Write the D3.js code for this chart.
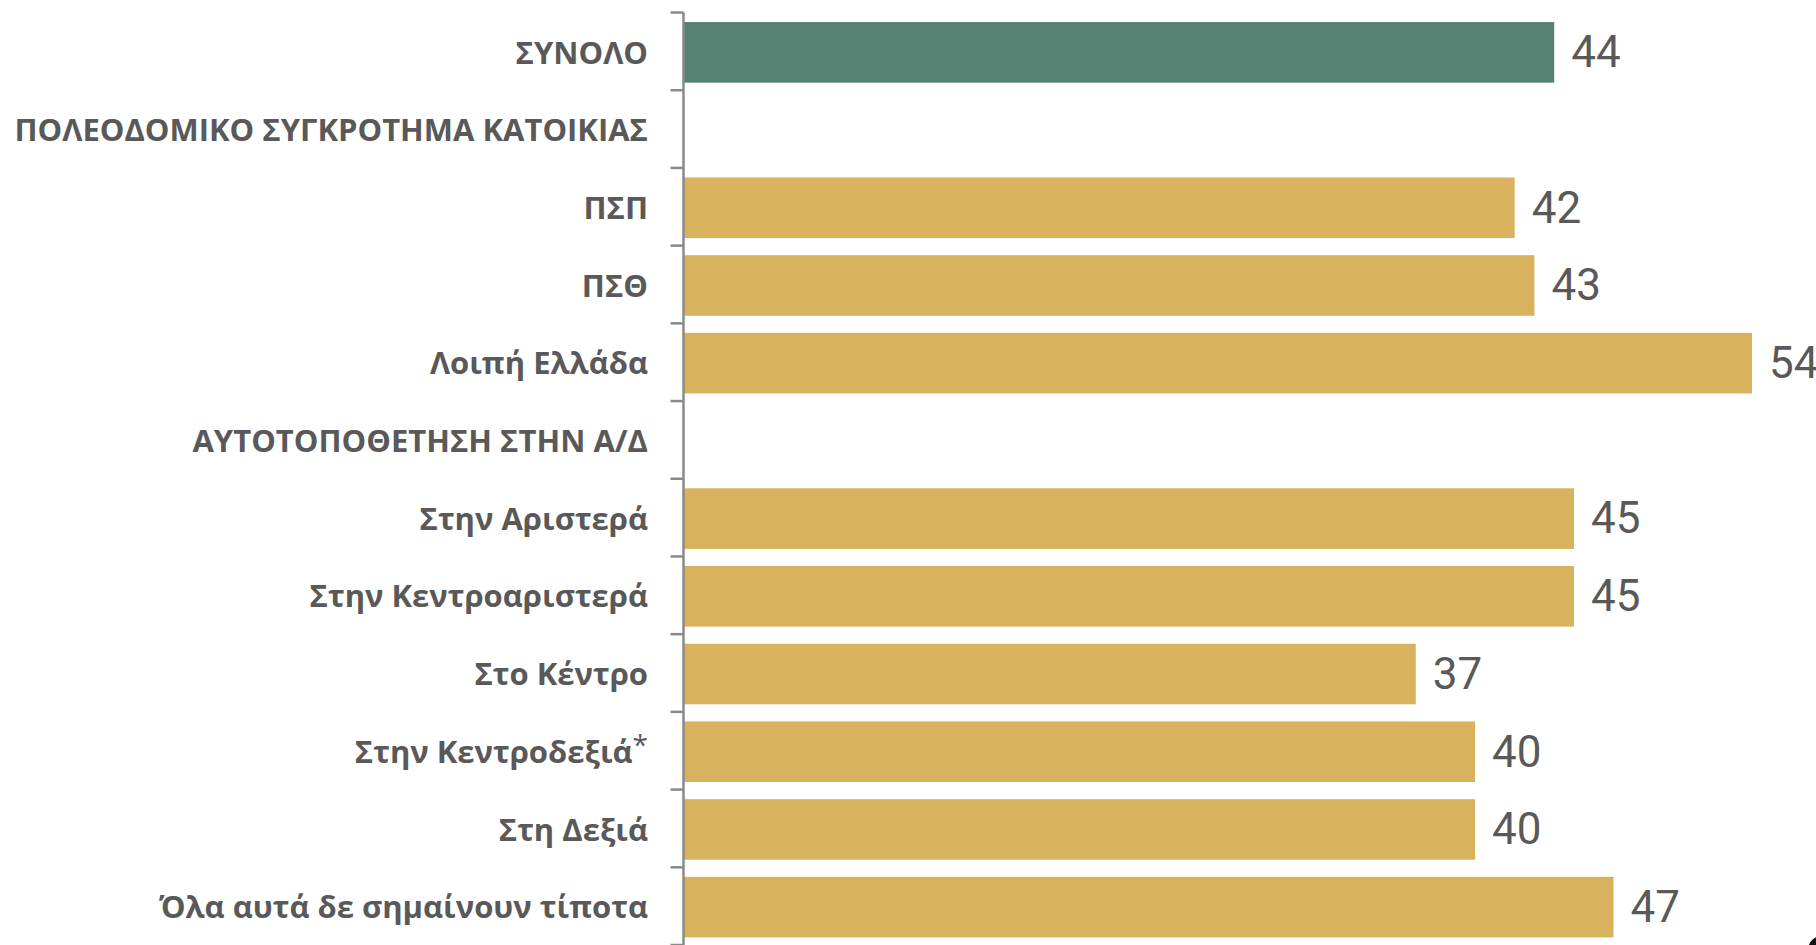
<!DOCTYPE html>
<html>
<head>
<meta charset="utf-8">
<script src="https://cdn.jsdelivr.net/npm/d3@7"></script>
<style>
  html, body { margin: 0; padding: 0; background: #fff; overflow: hidden; }
  svg { display: block; }
</style>
</head>
<body>
<svg id="chart" width="1816" height="945"></svg>
<script>
const categories = [
  "ΣΥΝΟΛΟ",
  "ΠΟΛΕΟΔΟΜΙΚΟ ΣΥΓΚΡΟΤΗΜΑ ΚΑΤΟΙΚΙΑΣ",
  "ΠΣΠ",
  "ΠΣΘ",
  "Λοιπή Ελλάδα",
  "ΑΥΤΟΤΟΠΟΘΕΤΗΣΗ ΣΤΗΝ Α/Δ",
  "Στην Αριστερά",
  "Στην Κεντροαριστερά",
  "Στο Κέντρο",
  "Στην Κεντροδεξιά",
  "Στη Δεξιά",
  "Όλα αυτά δε σημαίνουν τίποτα"
];
const values = [44, null, 42, 43, 54, null, 45, 45, 37, 40, 40, 47];
const footnoteMarks = ["", "", "", "", "", "", "", "", "", "*", "", ""];
const highlight = ["ΣΥΝΟΛΟ"];

const svg = d3.select("#chart");
const x0 = 684;
const x = d3.scaleLinear().domain([0, 54]).range([x0, 1752]);
const y = d3.scaleBand().domain(categories).range([12.5, 945])
  .paddingInner(0.22).paddingOuter(0.11);

// bars
const rows = categories.map((c, i) => ({c, v: values[i], m: footnoteMarks[i]}));
svg.append("g").selectAll("rect")
  .data(rows.filter(d => d.v != null))
  .join("rect")
  .attr("x", x(0))
  .attr("y", d => y(d.c) + 1)
  .attr("width", d => x(d.v) - x(0))
  .attr("height", y.bandwidth())
  .attr("fill", d => highlight.includes(d.c) ? "#568274" : "#D9B25E");

// axis
const axis = d3.axisLeft(y).tickSize(0).tickFormat("");
const ag = svg.append("g").attr("transform", `translate(${x0 - 0.5},0)`).call(axis);
ag.select(".domain").attr("stroke", "#8a8a8a").attr("stroke-width", 2.5)
  .attr("d", `M0,${y.range()[0]}V${y.range()[1]}`);
const step = y.step();
const bounds = d3.range(categories.length + 1).map(i => y.range()[0] + i * step);
ag.selectAll(".bound").data(bounds).join("line")
  .attr("class", "bound")
  .attr("x1", -13).attr("x2", 0)
  .attr("y1", d => d).attr("y2", d => d)
  .attr("stroke", "#8a8a8a").attr("stroke-width", 2.5);

// category labels
const lbl = svg.append("g").selectAll("text").data(rows).join("text")
  .attr("x", 648)
  .attr("y", d => y(d.c) + y.bandwidth() / 2 + 1)
  .attr("dy", "0.36em")
  .attr("text-anchor", "end")
  .attr("font-family", "'Open Sans', sans-serif")
  .attr("font-weight", 700)
  .attr("font-size", 31)
  .attr("fill", "#595959");
lbl.append("tspan").text(d => d.c);
lbl.filter(d => d.m).append("tspan")
  .attr("font-weight", 400).attr("font-size", 28).attr("dy", "-0.28em")
  .text(d => d.m);

// value labels
svg.append("g").selectAll("text").data(rows.filter(d => d.v != null)).join("text")
  .attr("x", d => x(d.v) + 17)
  .attr("y", d => y(d.c) + y.bandwidth() / 2)
  .attr("dy", "0.36em")
  .attr("font-family", "'Liberation Sans Narrow', 'Roboto', sans-serif")
  .attr("font-size", 44)
  .attr("fill", "#595959")
  .text(d => d.v);

// partial page mark at bottom-right
svg.append("circle").attr("cx", 1822).attr("cy", 950).attr("r", 14).attr("fill", "#111");
</script>
</body>
</html>
